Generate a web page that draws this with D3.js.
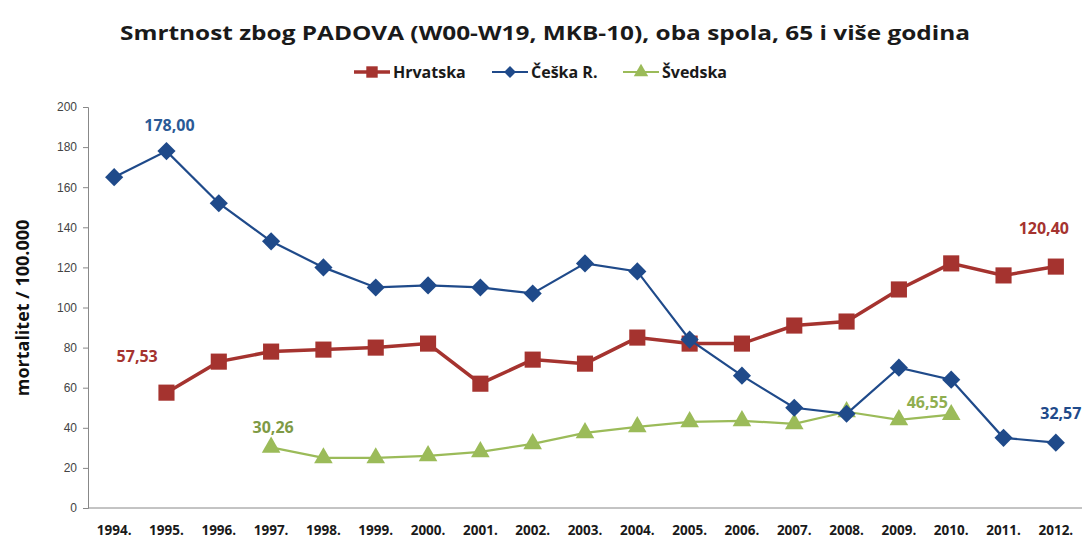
<!DOCTYPE html>
<html>
<head>
<meta charset="utf-8">
<script src="https://cdn.jsdelivr.net/npm/d3@7"></script>
<style>
  body { margin: 0; background: #fff; }
  text { font-family: "Open Sans", "Liberation Sans", sans-serif; }
</style>
</head>
<body>
<div id="chart"></div>
<script>
// data
const years = ["1994.", "1995.", "1996.", "1997.", "1998.", "1999.", "2000.", "2001.", "2002.", "2003.",
  "2004.", "2005.", "2006.", "2007.", "2008.", "2009.", "2010.", "2011.", "2012."]
const hrvatska = [null, 57.53, 73, 78, 79, 80, 82, 62, 74, 72, 85, 82, 82, 91, 93, 109, 122, 116, 120.40]
const ceska = [165, 178.00, 152, 133, 120, 110, 111, 110, 107, 122, 118, 84, 66, 50, 47, 70, 64, 35, 32.57]
const svedska = [null, null, null, 30.26, 25, 25, 26, 28, 32, 37.5, 40.5, 43, 43.5, 42, 48, 44, 46.55, null, null]
const yTicks = [0, 20, 40, 60, 80, 100, 120, 140, 160, 180, 200]

const width = 1091, height = 543

const svg = d3.select("#chart").append("svg")
  .attr("width", width)
  .attr("height", height)

const x = d3.scalePoint()
  .domain(years)
  .range([88, 1082])
  .padding(0.5)

const y = d3.scaleLinear()
  .domain([0, 200])
  .range([508, 107])

// title
svg.append("text")
  .attr("x", 545).attr("y", 40)
  .attr("text-anchor", "middle")
  .style("font-size", "20px")
  .style("font-weight", "bold")
  .attr("fill", "#1a1a1a")
  .attr("textLength", 850)
  .attr("lengthAdjust", "spacingAndGlyphs")
  .text("Smrtnost zbog PADOVA (W00-W19, MKB-10), oba spola, 65 i više godina")

// y axis
const yAxis = svg.append("g")
  .attr("transform", "translate(88,0)")
  .call(d3.axisLeft(y).tickValues(yTicks).tickSize(5).tickPadding(6))
yAxis.select(".domain").attr("stroke", "#888")
yAxis.selectAll(".tick line").attr("stroke", "#888")
yAxis.selectAll(".tick text")
  .attr("fill", "#444")
  .style("font-size", "12px")
  .style("font-family", "'Liberation Sans', sans-serif")

// x axis line and labels
svg.append("line")
  .attr("x1", 88).attr("x2", 1082)
  .attr("y1", y(0)).attr("y2", y(0))
  .attr("stroke", "#888")

svg.selectAll(".xlab")
  .data(years)
  .enter()
  .append("text")
  .attr("x", d => x(d))
  .attr("y", 535)
  .attr("text-anchor", "middle")
  .style("font-size", "13.5px")
  .style("font-weight", "bold")
  .attr("fill", "#1a1a1a")
  .text(d => d)

// y axis title
svg.append("text")
  .attr("transform", "translate(29,308) rotate(-90)")
  .attr("text-anchor", "middle")
  .style("font-size", "18px")
  .style("font-weight", "bold")
  .attr("fill", "#111")
  .text("mortalitet / 100.000")

const series = [
  { name: "Hrvatska", values: hrvatska, color: "#a5332f", width: 3.5, marker: "square" },
  { name: "Češka R.", values: ceska, color: "#1f4a8a", width: 2.2, marker: "diamond" },
  { name: "Švedska", values: svedska, color: "#9bbb59", width: 2.2, marker: "triangle" }
]

const symbolOf = {
  square: d3.symbol().type(d3.symbolSquare).size(260),
  diamond: d3.symbol().type(d3.symbolDiamond2).size(210),
  triangle: d3.symbol().type(d3.symbolTriangle).size(150)
}

const line = d3.line()
  .defined(d => d.v != null)
  .x(d => x(d.year))
  .y(d => y(d.v))

// draw series (green first, then red, blue on top)
const drawOrder = [series[2], series[0], series[1]]
drawOrder.forEach(s => {
  const pts = years.map((yr, i) => ({ year: yr, v: s.values[i] }))
  svg.append("path")
    .datum(pts)
    .attr("d", line)
    .attr("fill", "none")
    .attr("stroke", s.color)
    .attr("stroke-width", s.width)

  svg.selectAll(null)
    .data(pts.filter(d => d.v != null))
    .enter()
    .append("path")
    .attr("d", symbolOf[s.marker])
    .attr("transform", d => "translate(" + x(d.year) + "," + y(d.v) + ")")
    .attr("fill", s.color)
})

// value labels
const labels = [
  { text: "178,00", year: "1995.", v: 178.00, dx: 3, dy: -20, color: "#2a5a96" },
  { text: "57,53", year: "1994.", v: 57.53, dx: 23, dy: -31, color: "#a5332f" },
  { text: "30,26", year: "1997.", v: 30.26, dx: 2, dy: -14, color: "#7e9a45" },
  { text: "46,55", year: "2010.", v: 46.55, dx: -24, dy: -7, color: "#8fae4f" },
  { text: "120,40", year: "2012.", v: 120.40, dx: -12, dy: -33, color: "#a5332f" },
  { text: "32,57", year: "2012.", v: 32.57, dx: 5, dy: -24, color: "#1f4a8a" }
]
svg.selectAll(".vlab")
  .data(labels)
  .enter()
  .append("text")
  .attr("x", d => x(d.year) + d.dx)
  .attr("y", d => y(d.v) + d.dy)
  .attr("text-anchor", "middle")
  .style("font-size", "16px")
  .style("font-weight", "bold")
  .attr("fill", d => d.color)
  .text(d => d.text)

// legend
const legendX = [354, 492, 623]
const legend = svg.selectAll(".leg")
  .data(series)
  .enter()
  .append("g")
  .attr("transform", (d, i) => "translate(" + legendX[i] + ",72)")
legend.append("line")
  .attr("x1", 0).attr("x2", 36)
  .attr("stroke", d => d.color)
  .attr("stroke-width", d => d.width)
legend.append("path")
  .attr("d", d => d3.symbol().type(
      d.marker == "square" ? d3.symbolSquare : d.marker == "diamond" ? d3.symbolDiamond2 : d3.symbolTriangle
    ).size(d.marker == "square" ? 130 : 90)())
  .attr("transform", "translate(18,0)")
  .attr("fill", d => d.color)
legend.append("text")
  .attr("x", 39).attr("y", 6)
  .style("font-size", "16px")
  .style("font-weight", "bold")
  .attr("fill", "#1a1a1a")
  .text(d => d.name)
</script>
</body>
</html>
